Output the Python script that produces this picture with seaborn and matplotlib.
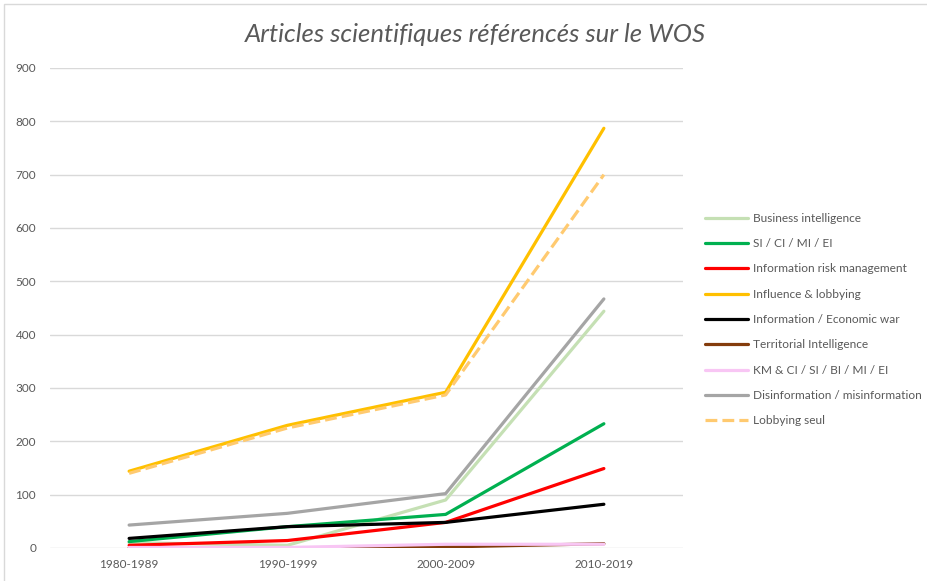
import pandas as pd
import numpy as np
import matplotlib
matplotlib.use("Agg")
import matplotlib.pyplot as plt
import seaborn as sns
from matplotlib.patches import Rectangle

sns.set_style("white")
plt.rcParams["font.family"] = ["Lato", "DejaVu Sans"]

# ======================================================
# Data
# ======================================================

decades = ["1980-1989", "1990-1999", "2000-2009", "2010-2019"]

business_intelligence = [10, 5, 90, 444]
si_ci_mi_ei = [12, 40, 63, 233]
info_risk = [5, 14, 48, 149]
influence_lobbying = [144, 230, 292, 787]
economic_war = [18, 40, 48, 82]
territorial = [0, 0, 2, 8]
km_ci = [1, 1, 7, 7]
disinformation = [43, 65, 102, 467]
lobbying_seul = [140, 225, 287, 700]

series_names = [
    "Business intelligence",
    "SI / CI / MI / EI",
    "Information risk management",
    "Influence & lobbying",
    "Information / Economic war",
    "Territorial Intelligence",
    "KM & CI / SI / BI / MI / EI",
    "Disinformation / misinformation",
    "Lobbying seul",
]
series_values = [
    business_intelligence, si_ci_mi_ei, info_risk, influence_lobbying,
    economic_war, territorial, km_ci, disinformation, lobbying_seul,
]
colors = ["#c5e0b4", "#00b050", "#ff0000", "#ffc000", "#000000",
          "#843c0c", "#f8c6f4", "#a5a5a5", "#ffca70"]

rows = []
for name, vals in zip(series_names, series_values):
    for d, v in zip(decades, vals):
        rows.append({"decade": d, "articles": v, "serie": name})
df = pd.DataFrame(rows)

# ======================================================
# Plot
# ======================================================

fig = plt.figure(figsize=(9.28, 5.81), dpi=100)
ax = fig.add_axes([50 / 928, 1 - 548 / 581, (683 - 50) / 928, (548 - 68) / 581])

for name, col in zip(series_names, colors):
    sub = df[df["serie"] == name]
    sns.lineplot(
        data=sub, x="decade", y="articles", ax=ax, color=col,
        linewidth=2.3, label=name, sort=False,
        linestyle="--" if name == "Lobbying seul" else "-",
        solid_capstyle="round", dash_capstyle="butt",
    )

ax.set_xlim(-0.5, 3.5)
ax.set_ylim(0, 900)
ax.set_yticks(np.arange(0, 901, 100))
ax.yaxis.grid(True, color="#d9d9d9", linewidth=1)
ax.set_axisbelow(True)
for s in ax.spines.values():
    s.set_visible(False)
ax.tick_params(axis="both", length=0, labelsize=8.5, colors="#595959")
ax.tick_params(axis="y", pad=10)
ax.tick_params(axis="x", pad=8)
ax.set_xlabel("")
ax.set_ylabel("")

fig.text(475 / 928, 1 - 35 / 581, "Articles scientifiques référencés sur le WOS",
         ha="center", va="center", fontsize=18.5, style="italic", color="#595959")

ax.legend(
    loc="upper left", bbox_to_anchor=(700 / 928, 1 - 208 / 581),
    bbox_transform=fig.transFigure, frameon=False, fontsize=8.6,
    handlelength=3.6, handletextpad=0.4, labelspacing=1.2,
    labelcolor="#595959", borderaxespad=0,
)

fig.patches.append(Rectangle((4 / 928, -0.01), 1.2, 1 - 4 / 581 + 0.01,
                             transform=fig.transFigure, fill=False,
                             edgecolor="#d9d9d9", linewidth=1))

plt.savefig("out.png", dpi=100)
